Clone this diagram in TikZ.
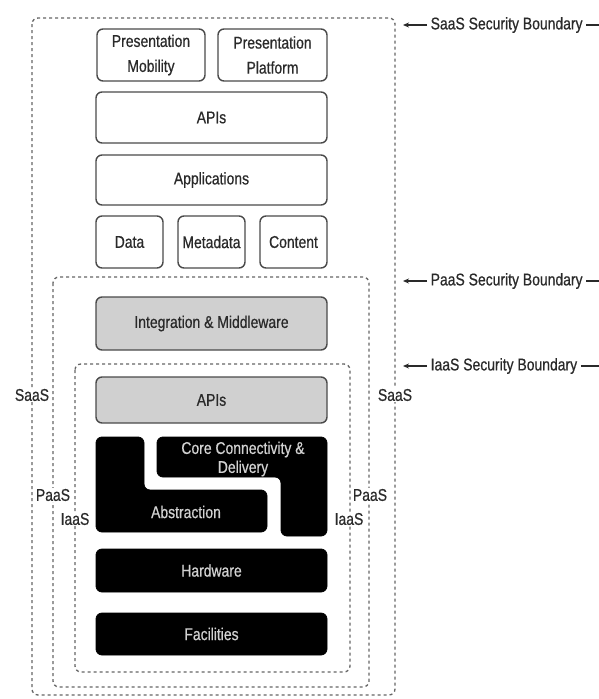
\documentclass[tikz,border=0pt]{standalone}
\usepackage{fontspec}
\setmainfont{Liberation Sans}[FakeStretch=0.82, FakeBold=0.6]
\usetikzlibrary{arrows.meta}
\definecolor{txt}{HTML}{2A2A2A}
\definecolor{edge}{HTML}{4A4A4A}
\definecolor{midgray}{HTML}{D0D0D0}
\definecolor{dash}{HTML}{666666}
\tikzset{
  lbl/.style={font=\fontsize{17}{22}\selectfont, text=txt, inner sep=0.5pt},
  sidelbl/.style={lbl, fill=white},
  box/.style={draw=edge, line width=1.4pt, rounded corners=6pt, fill=white,
    font=\fontsize{17}{25}\selectfont, text=txt, align=center, inner sep=0pt},
  graybox/.style={box, fill=midgray},
  blackbox/.style={draw=black, fill=black, rounded corners=6pt, line width=0.8pt},
  blacktxt/.style={font=\fontsize{17}{19}\selectfont, text=black!18, align=center, inner sep=0pt},
  bound/.style={draw=dash, line width=1.3pt, dash pattern=on 3pt off 3pt, rounded corners=6pt},
  pointer/.style={draw=txt, line width=1.2pt, -{Stealth[length=6pt,width=5pt]}},
  tail/.style={draw=txt, line width=1.2pt}
}
\begin{document}
\begin{tikzpicture}[x=1pt,y=-1pt]
\useasboundingbox[fill=white] (0,0) rectangle (599,699);

% security boundaries
\draw[bound] (32,18) rectangle (395,695);
\draw[bound] (53,277) rectangle (369,687);
\draw[bound] (75,364) rectangle (350,672);

% SaaS layer
\node[box, minimum width=108pt, minimum height=52pt] (pm) at (151,55) {Presentation\\Mobility};
\node[box, minimum width=109pt, minimum height=52pt] (pp) at (272.5,55) {Presentation\\Platform};
\node[box, minimum width=231pt, minimum height=51pt] (apis) at (211.5,117.5) {APIs};
\node[box, minimum width=231pt, minimum height=50pt] (apps) at (211.5,180) {Applications};
\node[box, minimum width=67pt, minimum height=52pt] (data) at (129.5,242) {Data};
\node[box, minimum width=67pt, minimum height=52pt] (meta) at (211.5,242) {Metadata};
\node[box, minimum width=67pt, minimum height=52pt] (cont) at (293.5,242) {Content};

% PaaS layer
\node[graybox, minimum width=231pt, minimum height=53pt] (integ) at (211.5,323.5) {Integration \& Middleware};

% IaaS layer
\node[graybox, minimum width=231pt, minimum height=46pt] (apis2) at (211.5,400) {APIs};
\path[blackbox] (96,437) -- (144,437) -- (144,490) -- (267,490) -- (267,532) -- (96,532) -- cycle;
\path[blackbox] (157,437) -- (327,437) -- (327,536) -- (281,536) -- (281,477) -- (157,477) -- cycle;
\node[blacktxt] (core) at (243,459) {Core Connectivity \&\\Delivery};
\node[blacktxt] (abst) at (186,512) {Abstraction};
\node[blackbox, minimum width=231pt, minimum height=43pt] (hw) at (211.5,570.5) {};
\node[blacktxt] (hwt) at (hw.center) {Hardware};
\node[blackbox, minimum width=231pt, minimum height=42pt] (fac) at (211.5,634) {};
\node[blacktxt] (fact) at (fac.center) {Facilities};

% side labels
\node[sidelbl] (saasl) at (32,395) {SaaS};
\node[sidelbl] (saasr) at (395,395) {SaaS};
\node[sidelbl] (paasl) at (53,495) {PaaS};
\node[sidelbl] (paasr) at (370,495) {PaaS};
\node[sidelbl] (iaasl) at (75,519) {IaaS};
\node[sidelbl] (iaasr) at (349,519) {IaaS};

% boundary callouts
\node[lbl, anchor=west] (saasb) at (430,25) {SaaS Security Boundary};
\node[lbl, anchor=west] (paasb) at (430,281) {PaaS Security Boundary};
\node[lbl, anchor=west] (iaasb) at (430,366) {IaaS Security Boundary};
\coordinate (saasa) at (403,25);
\coordinate (paasa) at (403,281);
\coordinate (iaasa) at (403,366);
\coordinate (saase) at (599,25);
\coordinate (paase) at (599,281);
\coordinate (iaase) at (599,366);
\draw[pointer] ([xshift=-3pt]saasb.west) -- (saasa);
\draw[pointer] ([xshift=-3pt]paasb.west) -- (paasa);
\draw[pointer] ([xshift=-3pt]iaasb.west) -- (iaasa);
\draw[tail] ([xshift=3pt]saasb.east) -- (saase);
\draw[tail] ([xshift=3pt]paasb.east) -- (paase);
\draw[tail] ([xshift=3pt]iaasb.east) -- (iaase);
\end{tikzpicture}
\end{document}
